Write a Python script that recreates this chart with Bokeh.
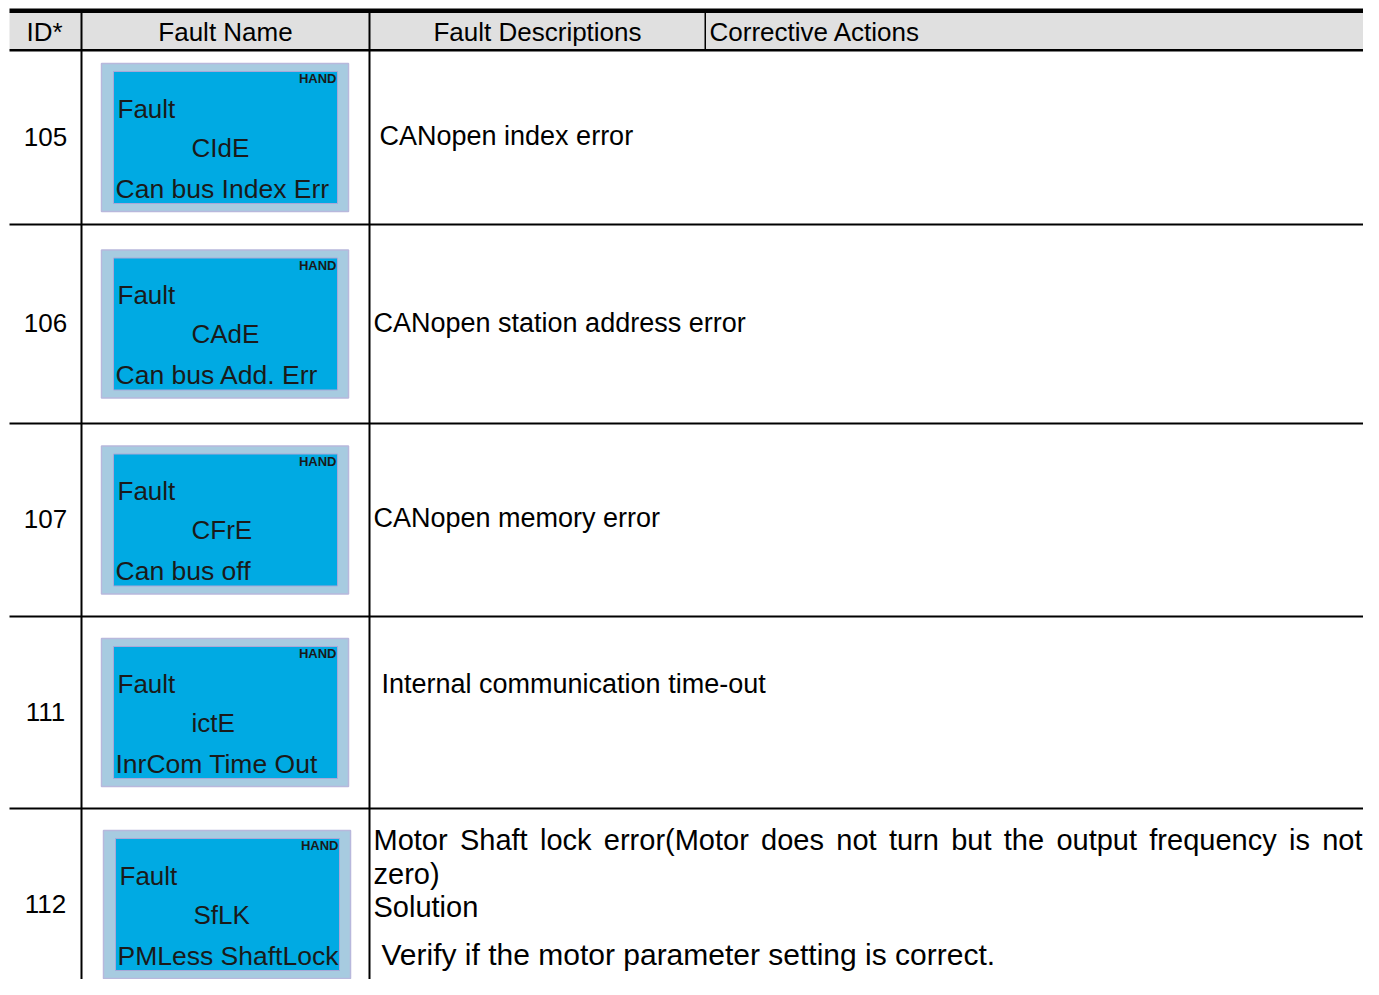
from bokeh.plotting import figure
from bokeh.models import Range1d
from bokeh.core.properties import value
from bokeh.embed import file_html
from bokeh.resources import INLINE

# ---------------- data ----------------
headers = ["ID*", "Fault Name", "Fault Descriptions", "Corrective Actions"]
ids = ["105", "106", "107", "111", "112"]
codes = ["CIdE", "CAdE", "CFrE", "ictE", "SfLK"]
lcd_msgs = ["Can bus Index Err", "Can bus Add. Err", "Can bus off",
            "InrCom Time Out", "PMLess ShaftLock"]
descriptions = ["CANopen index error", "CANopen station address error",
                "CANopen memory error", "Internal communication time-out"]
last_line1 = "Motor Shaft lock error(Motor does not turn but the output frequency is not"
last_lines = ["zero)", "Solution"]
last_action = "Verify if the motor parameter setting is correct."

# ---------------- layout (pixel coords) ----------------
W, H = 1363, 979
row_edges = [50, 224, 423, 616, 808, 1000]
header_text_x = [44, 225, 537, 709]
header_align = ["center", "center", "center", "left"]
desc_x = [379, 373, 373, 381]
panel_dx = [0, 0, 0, 0, 2]
FONT = value("Liberation Sans")

p = figure(width=W, height=H, x_range=Range1d(0, W), y_range=Range1d(H, 0),
           output_backend="svg", toolbar_location=None, min_border=0)
p.axis.visible = False
p.grid.visible = False
p.outline_line_color = None
p.background_fill_color = "white"
p.border_fill_color = "white"

# header background and rules
p.quad(left=[9], right=[1379], top=[12], bottom=[49], fill_color="#e0e0e0", line_color=None)
p.quad(left=[9], right=[1379], top=[8], bottom=[12.5], fill_color="black", line_color=None)
p.quad(left=[9], right=[1379], top=[48.5], bottom=[51], fill_color="black", line_color=None)
seps = row_edges[1:-1]
p.quad(left=[9] * len(seps), right=[1379] * len(seps),
       top=[y - 1 for y in seps], bottom=[y + 1 for y in seps],
       fill_color="black", line_color=None)
# vertical rules
p.quad(left=[80, 368], right=[82, 370], top=[12, 12], bottom=[1000, 1000],
       fill_color="black", line_color=None)
p.quad(left=[704], right=[705.5], top=[12], bottom=[49], fill_color="black", line_color=None)

# header texts
for t, x, a in zip(headers, header_text_x, header_align):
    p.text(x=[x], y=[31], text=[t], text_font=FONT, text_font_size="26px",
           text_align=a, text_baseline="middle", text_color="black")

# rows
centers = [(row_edges[i] + row_edges[i + 1]) / 2 for i in range(len(ids))]
p.text(x=[45] * len(ids), y=[c - 1 for c in centers], text=ids, text_font=FONT,
       text_font_size="26px", text_align="center", text_baseline="middle", text_color="black")

# LCD panels
pl = [101 + d for d in panel_dx]
pt = [c - 74 for c in centers]
p.quad(left=pl, right=[x + 247 for x in pl], top=pt, bottom=[t + 148 for t in pt],
       fill_color="#a7cbe0", line_color="#b8b8dc", line_width=1.5)
p.quad(left=[x + 12 for x in pl], right=[x + 236 for x in pl], top=[t + 8 for t in pt],
       bottom=[t + 140 for t in pt], fill_color="#00aae3", line_color="#a8a8d8", line_width=1)
p.text(x=[x + 235 for x in pl], y=[t + 15 for t in pt], text=["HAND"] * len(ids),
       text_font=FONT, text_font_style="bold", text_font_size="13px",
       text_align="right", text_baseline="middle", text_color="#1a1a1a")
p.text(x=[x + 16 for x in pl], y=[t + 45 for t in pt], text=["Fault"] * len(ids),
       text_font=FONT, text_font_size="26px", text_align="left", text_baseline="middle",
       text_color="#1a1a1a")
p.text(x=[x + 90 for x in pl], y=[t + 84 for t in pt], text=codes,
       text_font=FONT, text_font_size="26px", text_align="left", text_baseline="middle",
       text_color="#1a1a1a")
p.text(x=[x + 14 for x in pl], y=[t + 125 for t in pt], text=lcd_msgs,
       text_font=FONT, text_font_size="26.5px", text_align="left", text_baseline="middle",
       text_color="#1a1a1a")

# descriptions rows 1-4
desc_y = [centers[0] - 1.5, centers[1] - 1.5, centers[2] - 2.5, row_edges[3] + 67]
p.text(x=desc_x, y=desc_y, text=descriptions, text_font=FONT, text_font_size="27px",
       text_align="left", text_baseline="middle", text_color="black")

# last row: justified first line
AW = {' ': 278, '(': 333, ')': 333, '.': 278, '-': 333, 'A': 667, 'C': 722, 'D': 722,
      'E': 667, 'F': 611, 'I': 278, 'M': 833, 'N': 722, 'S': 667, 'V': 667,
      'a': 556, 'b': 556, 'c': 500, 'd': 556, 'e': 556, 'f': 278, 'g': 556, 'h': 556,
      'i': 222, 'k': 500, 'l': 222, 'm': 833, 'n': 556, 'o': 556, 'p': 556, 'q': 556,
      'r': 333, 's': 500, 't': 278, 'u': 556, 'v': 500, 'x': 500, 'y': 500, 'z': 500}
FS = 29


def tw(s):
    return sum(AW.get(ch, 556) for ch in s) * FS / 1000.0


words = last_line1.split(" ")
x_start, x_end = 373, 1362
gap = (x_end - x_start - sum(tw(w) for w in words)) / (len(words) - 1)
wx = []
cur = x_start
for w in words:
    wx.append(cur)
    cur += tw(w) + gap
r5 = row_edges[4]
p.text(x=wx, y=[r5 + 31] * len(words), text=words, text_font=FONT, text_font_size="29px",
       text_align="left", text_baseline="middle", text_color="black")
p.text(x=[373, 373], y=[r5 + 65, r5 + 98], text=last_lines, text_font=FONT,
       text_font_size="29px", text_align="left", text_baseline="middle", text_color="black")
p.text(x=[381], y=[r5 + 146], text=[last_action], text_font=FONT, text_font_size="30px",
       text_align="left", text_baseline="middle", text_color="black")

open("out.html", "w").write(file_html(p, INLINE))
